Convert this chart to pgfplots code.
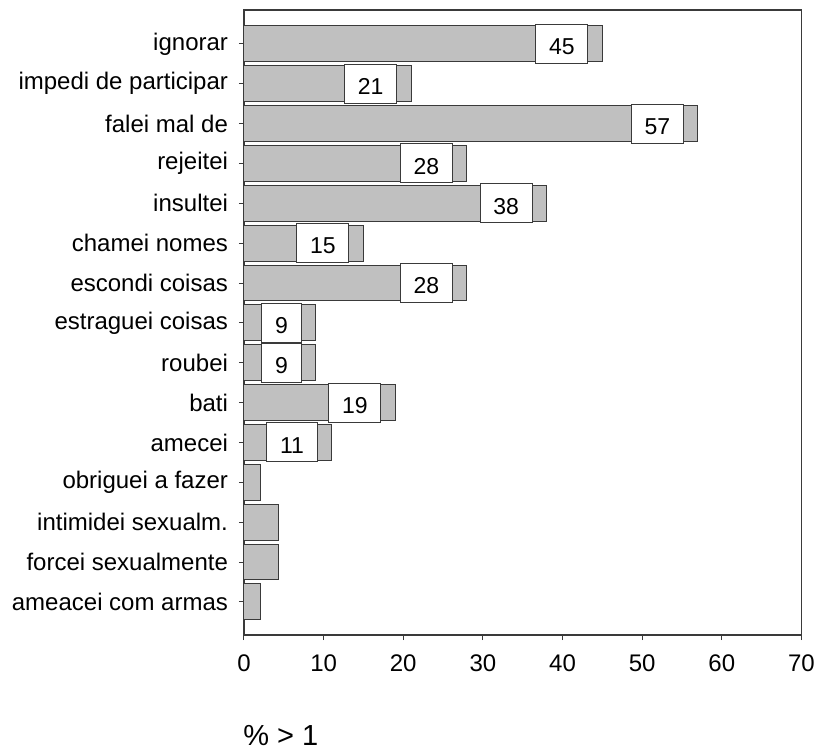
\documentclass[border=0pt]{standalone}
\usepackage{fontspec}
\setmainfont{Liberation Sans}
\usepackage{pgfplots}
\pgfplotsset{compat=1.18}
\definecolor{barfill}{HTML}{C0C0C0}
\definecolor{edge}{HTML}{3A3A3A}
\begin{document}
\begin{tikzpicture}
\useasboundingbox (-122bp,-58bp) rectangle (287bp,317.5bp);
\begin{axis}[
    at={(0,0)}, anchor=south west,
    scale only axis, width=278.7bp, height=312.5bp,
    xbar, bar width=0.9, bar shift=0pt,
    xmin=0, xmax=70, ymin=0.17, ymax=15.85,
    xtick={0,10,...,70},
    ytick={1,...,15},
    yticklabels={ameacei com armas, forcei sexualmente, intimidei sexualm.,
        obriguei a fazer, amecei, bati, roubei, estraguei coisas, escondi coisas,
        chamei nomes, insultei, rejeitei, falei mal de, impedi de participar, ignorar},
    xtick pos=left, ytick pos=left,
    tick align=outside, major tick length=2.5bp,
    tick style={edge, line width=0.5bp},
    axis line style={edge, line width=0.7bp},
    tick label style={font=\fontsize{12bp}{14bp}\selectfont, text=black},
    /pgf/number format/assume math mode=true,
    yticklabel style={xshift=-2bp},
    xticklabel style={yshift=-4bp},
    xlabel={\% > 1},
    xlabel style={at={(axis description cs:0.066,-0.161)}, anchor=center,
        font=\fontsize{14.5bp}{16bp}\selectfont},
    clip=false,
]
% bars with value boxes
\addplot[fill=barfill, draw=edge, line width=0.5bp,
    nodes near coords={\raisebox{-1.2bp}[8.3bp][0pt]{\pgfmathprintnumber{\pgfplotspointmeta}}},
    every node near coord/.append style={anchor=east, xshift=-7bp,
        fill=white, draw=edge, line width=0.5bp, text=black,
        minimum height=19.5bp, inner xsep=6.6bp, inner ysep=0pt,
        font=\fontsize{11.5bp}{13bp}\selectfont},
] coordinates {
    (45,15) (21,14) (57,13) (28,12) (38,11) (15,10) (28,9)
    (9,8) (9,7) (19,6) (11,5)
};
% small bars without labels
\addplot[fill=barfill, draw=edge, line width=0.5bp] coordinates {
    (2.1,4) (4.3,3) (4.3,2) (2.1,1)
};
\end{axis}
\end{tikzpicture}
\end{document}
